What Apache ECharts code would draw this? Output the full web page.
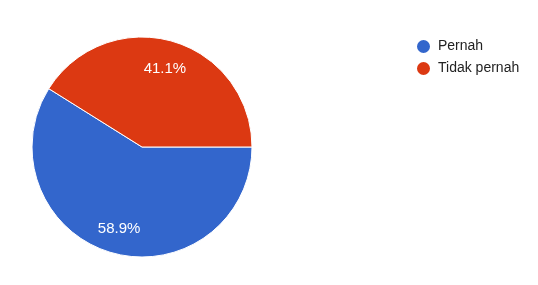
<!DOCTYPE html>
<html>
<head>
<meta charset="utf-8">
<script src="https://cdn.jsdelivr.net/npm/echarts@6/dist/echarts.min.js"></script>
<style>
html,body{margin:0;padding:0;background:#fff;}
#chart{width:538px;height:285px;}
</style>
</head>
<body>
<div id="chart"></div>
<script>
const categories = ['Pernah', 'Tidak pernah'];
const values = [58.9, 41.1];
const colors = ['#3366cc', '#dc3912'];

const data = categories.map((c, i) => ({ name: c, value: values[i], itemStyle: { color: colors[i] } }));

const chart = echarts.init(document.getElementById('chart'));
chart.setOption({
  animation: false,
  legend: {
    orient: 'vertical',
    left: 410,
    top: 33,
    icon: 'circle',
    itemWidth: 15,
    itemHeight: 15,
    itemGap: 5,
    textStyle: { fontFamily: 'Arial, Liberation Sans', fontSize: 14, color: '#222222', padding: [0, 0, 0, 2] },
    data: categories
  },
  series: [
    {
      type: 'pie',
      center: [142, 147],
      radius: [0, 110],
      startAngle: 0,
      clockwise: true,
      silent: true,
      label: { show: false },
      labelLine: { show: false },
      itemStyle: { borderColor: '#ffffff', borderWidth: 1 },
      data: data
    },
    {
      type: 'pie',
      center: [142, 147],
      radius: [50, 110],
      startAngle: 0,
      clockwise: true,
      silent: true,
      legendHoverLink: false,
      itemStyle: { color: 'rgba(0,0,0,0)' },
      label: {
        show: true,
        position: 'inner',
        color: '#ffffff',
        fontFamily: 'Arial, Liberation Sans',
        fontSize: 15,
        formatter: p => p.value.toFixed(1) + '%'
      },
      labelLayout: { dy: 2 },
      labelLine: { show: false },
      data: categories.map((c, i) => ({ name: c + ' ', value: values[i] }))
    }
  ]
});
</script>
</body>
</html>
